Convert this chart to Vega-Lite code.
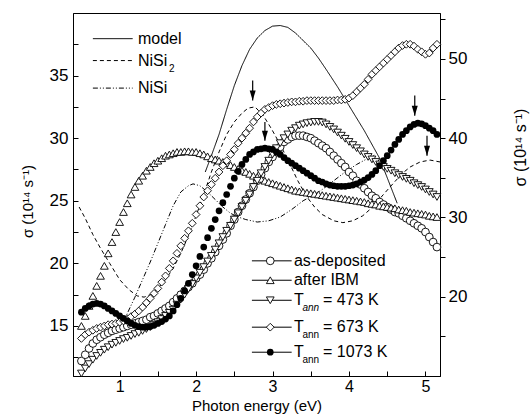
{
"$schema": "https://vega.github.io/schema/vega-lite/v6.json",
"width": 367,
"height": 363,
"autosize": "none",
"padding": {"left": 73, "top": 13, "right": 92, "bottom": 40},
"config": {
 "view": {"stroke": "black", "strokeWidth": 1},
 "font": "Liberation Sans",
 "axis": {"grid": false, "domainColor": "black", "tickColor": "black", "labelColor": "black", "titleColor": "black", "labelFont": "Liberation Sans", "titleFont": "Liberation Sans", "labelFontSize": 17, "titleFontSize": 15, "titleFontWeight": "normal", "labelOverlap": false, "labelFlush": false}
},
"datasets": {
 "markers": [
{"e":0.5,"s":"asdep","v":12.2},{"e":0.55,"s":"asdep","v":12.7},{"e":0.6,"s":"asdep","v":13.2},{"e":0.65,"s":"asdep","v":13.6},{"e":0.7,"s":"asdep","v":13.9},{"e":0.75,"s":"asdep","v":14.1},{"e":0.8,"s":"asdep","v":14.3},{"e":0.85,"s":"asdep","v":14.45},{"e":0.9,"s":"asdep","v":14.6},{"e":0.95,"s":"asdep","v":14.7},
{"e":1,"s":"asdep","v":14.8},{"e":1.05,"s":"asdep","v":14.9},{"e":1.1,"s":"asdep","v":15.0},{"e":1.15,"s":"asdep","v":15.1},{"e":1.2,"s":"asdep","v":15.2},{"e":1.25,"s":"asdep","v":15.3},{"e":1.3,"s":"asdep","v":15.4},{"e":1.35,"s":"asdep","v":15.5},{"e":1.4,"s":"asdep","v":15.7},{"e":1.45,"s":"asdep","v":15.8},
{"e":1.5,"s":"asdep","v":16.0},{"e":1.55,"s":"asdep","v":16.2},{"e":1.6,"s":"asdep","v":16.4},{"e":1.65,"s":"asdep","v":16.6},{"e":1.7,"s":"asdep","v":16.9},{"e":1.75,"s":"asdep","v":17.2},{"e":1.8,"s":"asdep","v":17.5},{"e":1.85,"s":"asdep","v":17.8},{"e":1.9,"s":"asdep","v":18.1},{"e":1.95,"s":"asdep","v":18.4},
{"e":2,"s":"asdep","v":18.8},{"e":2.05,"s":"asdep","v":19.1},{"e":2.1,"s":"asdep","v":19.5},{"e":2.15,"s":"asdep","v":20.0},{"e":2.2,"s":"asdep","v":20.4},{"e":2.25,"s":"asdep","v":20.9},{"e":2.3,"s":"asdep","v":21.4},{"e":2.35,"s":"asdep","v":21.9},{"e":2.4,"s":"asdep","v":22.4},{"e":2.45,"s":"asdep","v":23.0},
{"e":2.5,"s":"asdep","v":23.5},{"e":2.55,"s":"asdep","v":24.1},{"e":2.6,"s":"asdep","v":24.6},{"e":2.65,"s":"asdep","v":25.1},{"e":2.7,"s":"asdep","v":25.6},{"e":2.75,"s":"asdep","v":26.1},{"e":2.8,"s":"asdep","v":26.6},{"e":2.85,"s":"asdep","v":27.1},{"e":2.9,"s":"asdep","v":27.6},{"e":2.95,"s":"asdep","v":28.1},
{"e":3,"s":"asdep","v":28.5},{"e":3.05,"s":"asdep","v":28.9},{"e":3.1,"s":"asdep","v":29.3},{"e":3.15,"s":"asdep","v":29.7},{"e":3.2,"s":"asdep","v":29.9},{"e":3.25,"s":"asdep","v":30.1},{"e":3.3,"s":"asdep","v":30.2},{"e":3.35,"s":"asdep","v":30.2},{"e":3.4,"s":"asdep","v":30.2},{"e":3.45,"s":"asdep","v":30.1},
{"e":3.5,"s":"asdep","v":30.0},{"e":3.55,"s":"asdep","v":29.8},{"e":3.6,"s":"asdep","v":29.6},{"e":3.65,"s":"asdep","v":29.4},{"e":3.7,"s":"asdep","v":29.2},{"e":3.75,"s":"asdep","v":28.9},{"e":3.8,"s":"asdep","v":28.6},{"e":3.85,"s":"asdep","v":28.3},{"e":3.9,"s":"asdep","v":28.0},{"e":3.95,"s":"asdep","v":27.7},
{"e":4,"s":"asdep","v":27.3},{"e":4.05,"s":"asdep","v":27.0},{"e":4.1,"s":"asdep","v":26.6},{"e":4.15,"s":"asdep","v":26.3},{"e":4.2,"s":"asdep","v":26.0},{"e":4.25,"s":"asdep","v":25.7},{"e":4.3,"s":"asdep","v":25.4},{"e":4.35,"s":"asdep","v":25.2},{"e":4.4,"s":"asdep","v":24.9},{"e":4.45,"s":"asdep","v":24.7},
{"e":4.5,"s":"asdep","v":24.5},{"e":4.55,"s":"asdep","v":24.3},{"e":4.6,"s":"asdep","v":24.1},{"e":4.65,"s":"asdep","v":24.0},{"e":4.7,"s":"asdep","v":23.8},{"e":4.75,"s":"asdep","v":23.6},{"e":4.8,"s":"asdep","v":23.4},{"e":4.85,"s":"asdep","v":23.2},{"e":4.9,"s":"asdep","v":23.0},{"e":4.95,"s":"asdep","v":22.8},
{"e":5,"s":"asdep","v":22.5},{"e":5.05,"s":"asdep","v":22.1},{"e":5.1,"s":"asdep","v":21.7},{"e":5.15,"s":"asdep","v":21.3},
{"e":0.5,"s":"ibm","v":15.0},{"e":0.55,"s":"ibm","v":15.8},{"e":0.6,"s":"ibm","v":16.6},{"e":0.65,"s":"ibm","v":17.4},{"e":0.7,"s":"ibm","v":18.2},{"e":0.75,"s":"ibm","v":19.0},{"e":0.8,"s":"ibm","v":19.8},{"e":0.85,"s":"ibm","v":20.8},{"e":0.9,"s":"ibm","v":21.7},{"e":0.95,"s":"ibm","v":22.5},
{"e":1,"s":"ibm","v":23.3},{"e":1.05,"s":"ibm","v":24.1},{"e":1.1,"s":"ibm","v":24.8},{"e":1.15,"s":"ibm","v":25.5},{"e":1.2,"s":"ibm","v":26.1},{"e":1.25,"s":"ibm","v":26.6},{"e":1.3,"s":"ibm","v":27.0},{"e":1.35,"s":"ibm","v":27.4},{"e":1.4,"s":"ibm","v":27.7},{"e":1.45,"s":"ibm","v":28.0},
{"e":1.5,"s":"ibm","v":28.2},{"e":1.55,"s":"ibm","v":28.4},{"e":1.6,"s":"ibm","v":28.6},{"e":1.65,"s":"ibm","v":28.7},{"e":1.7,"s":"ibm","v":28.8},{"e":1.75,"s":"ibm","v":28.9},{"e":1.8,"s":"ibm","v":28.9},{"e":1.85,"s":"ibm","v":28.95},{"e":1.9,"s":"ibm","v":28.95},{"e":1.95,"s":"ibm","v":28.9},
{"e":2,"s":"ibm","v":28.9},{"e":2.05,"s":"ibm","v":28.8},{"e":2.1,"s":"ibm","v":28.7},{"e":2.15,"s":"ibm","v":28.55},{"e":2.2,"s":"ibm","v":28.4},{"e":2.25,"s":"ibm","v":28.3},{"e":2.3,"s":"ibm","v":28.2},{"e":2.35,"s":"ibm","v":28.1},{"e":2.4,"s":"ibm","v":28.0},{"e":2.45,"s":"ibm","v":27.85},
{"e":2.5,"s":"ibm","v":27.7},{"e":2.55,"s":"ibm","v":27.55},{"e":2.6,"s":"ibm","v":27.4},{"e":2.65,"s":"ibm","v":27.3},{"e":2.7,"s":"ibm","v":27.15},{"e":2.75,"s":"ibm","v":27.0},{"e":2.8,"s":"ibm","v":26.9},{"e":2.85,"s":"ibm","v":26.75},{"e":2.9,"s":"ibm","v":26.6},{"e":2.95,"s":"ibm","v":26.5},
{"e":3,"s":"ibm","v":26.4},{"e":3.05,"s":"ibm","v":26.3},{"e":3.1,"s":"ibm","v":26.2},{"e":3.15,"s":"ibm","v":26.1},{"e":3.2,"s":"ibm","v":26.0},{"e":3.25,"s":"ibm","v":25.9},{"e":3.3,"s":"ibm","v":25.8},{"e":3.35,"s":"ibm","v":25.75},{"e":3.4,"s":"ibm","v":25.7},{"e":3.45,"s":"ibm","v":25.65},
{"e":3.5,"s":"ibm","v":25.6},{"e":3.55,"s":"ibm","v":25.55},{"e":3.6,"s":"ibm","v":25.5},{"e":3.65,"s":"ibm","v":25.45},{"e":3.7,"s":"ibm","v":25.4},{"e":3.75,"s":"ibm","v":25.35},{"e":3.8,"s":"ibm","v":25.3},{"e":3.85,"s":"ibm","v":25.25},{"e":3.9,"s":"ibm","v":25.2},{"e":3.95,"s":"ibm","v":25.15},
{"e":4,"s":"ibm","v":25.1},{"e":4.05,"s":"ibm","v":25.05},{"e":4.1,"s":"ibm","v":25.0},{"e":4.15,"s":"ibm","v":24.95},{"e":4.2,"s":"ibm","v":24.9},{"e":4.25,"s":"ibm","v":24.8},{"e":4.3,"s":"ibm","v":24.75},{"e":4.35,"s":"ibm","v":24.7},{"e":4.4,"s":"ibm","v":24.6},{"e":4.45,"s":"ibm","v":24.55},
{"e":4.5,"s":"ibm","v":24.5},{"e":4.55,"s":"ibm","v":24.45},{"e":4.6,"s":"ibm","v":24.4},{"e":4.65,"s":"ibm","v":24.3},{"e":4.7,"s":"ibm","v":24.25},{"e":4.75,"s":"ibm","v":24.2},{"e":4.8,"s":"ibm","v":24.1},{"e":4.85,"s":"ibm","v":24.05},{"e":4.9,"s":"ibm","v":24.0},{"e":4.95,"s":"ibm","v":23.95},
{"e":5,"s":"ibm","v":23.9},{"e":5.05,"s":"ibm","v":23.8},{"e":5.1,"s":"ibm","v":23.75},{"e":5.15,"s":"ibm","v":23.7},
{"e":0.5,"s":"473K","v":11.2},{"e":0.55,"s":"473K","v":11.6},{"e":0.6,"s":"473K","v":11.95},{"e":0.65,"s":"473K","v":12.3},{"e":0.7,"s":"473K","v":12.6},{"e":0.75,"s":"473K","v":12.85},{"e":0.8,"s":"473K","v":13.1},{"e":0.85,"s":"473K","v":13.3},{"e":0.9,"s":"473K","v":13.5},{"e":0.95,"s":"473K","v":13.65},
{"e":1,"s":"473K","v":13.8},{"e":1.05,"s":"473K","v":13.95},{"e":1.1,"s":"473K","v":14.05},{"e":1.15,"s":"473K","v":14.2},{"e":1.2,"s":"473K","v":14.35},{"e":1.25,"s":"473K","v":14.45},{"e":1.3,"s":"473K","v":14.6},{"e":1.35,"s":"473K","v":14.75},{"e":1.4,"s":"473K","v":14.9},{"e":1.45,"s":"473K","v":15.1},
{"e":1.5,"s":"473K","v":15.3},{"e":1.55,"s":"473K","v":15.55},{"e":1.6,"s":"473K","v":15.8},{"e":1.65,"s":"473K","v":16.05},{"e":1.7,"s":"473K","v":16.3},{"e":1.75,"s":"473K","v":16.7},{"e":1.8,"s":"473K","v":17.1},{"e":1.85,"s":"473K","v":17.5},{"e":1.9,"s":"473K","v":17.95},{"e":1.95,"s":"473K","v":18.35},
{"e":2,"s":"473K","v":18.8},{"e":2.05,"s":"473K","v":19.25},{"e":2.1,"s":"473K","v":19.7},{"e":2.15,"s":"473K","v":20.15},{"e":2.2,"s":"473K","v":20.6},{"e":2.25,"s":"473K","v":21.1},{"e":2.3,"s":"473K","v":21.6},{"e":2.35,"s":"473K","v":22.1},{"e":2.4,"s":"473K","v":22.6},{"e":2.45,"s":"473K","v":23.0},
{"e":2.5,"s":"473K","v":23.5},{"e":2.55,"s":"473K","v":24.0},{"e":2.6,"s":"473K","v":24.5},{"e":2.65,"s":"473K","v":25.0},{"e":2.7,"s":"473K","v":25.5},{"e":2.75,"s":"473K","v":26.1},{"e":2.8,"s":"473K","v":26.6},{"e":2.85,"s":"473K","v":27.2},{"e":2.9,"s":"473K","v":27.7},{"e":2.95,"s":"473K","v":28.2},
{"e":3,"s":"473K","v":28.7},{"e":3.05,"s":"473K","v":29.2},{"e":3.1,"s":"473K","v":29.6},{"e":3.15,"s":"473K","v":30.0},{"e":3.2,"s":"473K","v":30.3},{"e":3.25,"s":"473K","v":30.6},{"e":3.3,"s":"473K","v":30.8},{"e":3.35,"s":"473K","v":31.0},{"e":3.4,"s":"473K","v":31.1},{"e":3.45,"s":"473K","v":31.2},
{"e":3.5,"s":"473K","v":31.25},{"e":3.55,"s":"473K","v":31.3},{"e":3.6,"s":"473K","v":31.3},{"e":3.65,"s":"473K","v":31.25},{"e":3.7,"s":"473K","v":31.1},{"e":3.75,"s":"473K","v":30.9},{"e":3.8,"s":"473K","v":30.7},{"e":3.85,"s":"473K","v":30.45},{"e":3.9,"s":"473K","v":30.2},{"e":3.95,"s":"473K","v":29.95},
{"e":4,"s":"473K","v":29.7},{"e":4.05,"s":"473K","v":29.45},{"e":4.1,"s":"473K","v":29.2},{"e":4.15,"s":"473K","v":28.95},{"e":4.2,"s":"473K","v":28.7},{"e":4.25,"s":"473K","v":28.5},{"e":4.3,"s":"473K","v":28.3},{"e":4.35,"s":"473K","v":28.1},{"e":4.4,"s":"473K","v":27.9},{"e":4.45,"s":"473K","v":27.7},
{"e":4.5,"s":"473K","v":27.55},{"e":4.55,"s":"473K","v":27.4},{"e":4.6,"s":"473K","v":27.2},{"e":4.65,"s":"473K","v":27.05},{"e":4.7,"s":"473K","v":26.9},{"e":4.75,"s":"473K","v":26.75},{"e":4.8,"s":"473K","v":26.6},{"e":4.85,"s":"473K","v":26.4},{"e":4.9,"s":"473K","v":26.25},{"e":4.95,"s":"473K","v":26.1},
{"e":5,"s":"473K","v":25.9},{"e":5.05,"s":"473K","v":25.7},{"e":5.1,"s":"473K","v":25.5},{"e":5.15,"s":"473K","v":25.3},
{"e":0.5,"s":"673K","v":14.0},{"e":0.55,"s":"673K","v":14.3},{"e":0.6,"s":"673K","v":14.5},{"e":0.65,"s":"673K","v":14.65},{"e":0.7,"s":"673K","v":14.8},{"e":0.75,"s":"673K","v":14.9},{"e":0.8,"s":"673K","v":15.0},{"e":0.85,"s":"673K","v":15.1},{"e":0.9,"s":"673K","v":15.15},{"e":0.95,"s":"673K","v":15.2},
{"e":1,"s":"673K","v":15.3},{"e":1.05,"s":"673K","v":15.4},{"e":1.1,"s":"673K","v":15.55},{"e":1.15,"s":"673K","v":15.75},{"e":1.2,"s":"673K","v":15.95},{"e":1.25,"s":"673K","v":16.2},{"e":1.3,"s":"673K","v":16.5},{"e":1.35,"s":"673K","v":16.85},{"e":1.4,"s":"673K","v":17.2},{"e":1.45,"s":"673K","v":17.6},
{"e":1.5,"s":"673K","v":18.0},{"e":1.55,"s":"673K","v":18.5},{"e":1.6,"s":"673K","v":19.0},{"e":1.65,"s":"673K","v":19.6},{"e":1.7,"s":"673K","v":20.2},{"e":1.75,"s":"673K","v":20.8},{"e":1.8,"s":"673K","v":21.4},{"e":1.85,"s":"673K","v":22.0},{"e":1.9,"s":"673K","v":22.6},{"e":1.95,"s":"673K","v":23.2},
{"e":2,"s":"673K","v":23.9},{"e":2.05,"s":"673K","v":24.6},{"e":2.1,"s":"673K","v":25.3},{"e":2.15,"s":"673K","v":25.8},{"e":2.2,"s":"673K","v":26.3},{"e":2.25,"s":"673K","v":26.8},{"e":2.3,"s":"673K","v":27.3},{"e":2.35,"s":"673K","v":27.8},{"e":2.4,"s":"673K","v":28.2},{"e":2.45,"s":"673K","v":28.7},
{"e":2.5,"s":"673K","v":29.1},{"e":2.55,"s":"673K","v":29.6},{"e":2.6,"s":"673K","v":30.0},{"e":2.65,"s":"673K","v":30.4},{"e":2.7,"s":"673K","v":30.8},{"e":2.75,"s":"673K","v":31.3},{"e":2.8,"s":"673K","v":31.7},{"e":2.85,"s":"673K","v":32.0},{"e":2.9,"s":"673K","v":32.3},{"e":2.95,"s":"673K","v":32.45},
{"e":3,"s":"673K","v":32.6},{"e":3.05,"s":"673K","v":32.7},{"e":3.1,"s":"673K","v":32.75},{"e":3.15,"s":"673K","v":32.8},{"e":3.2,"s":"673K","v":32.85},{"e":3.25,"s":"673K","v":32.9},{"e":3.3,"s":"673K","v":32.9},{"e":3.35,"s":"673K","v":32.95},{"e":3.4,"s":"673K","v":32.95},{"e":3.45,"s":"673K","v":33.0},
{"e":3.5,"s":"673K","v":33.0},{"e":3.55,"s":"673K","v":33.0},{"e":3.6,"s":"673K","v":33.0},{"e":3.65,"s":"673K","v":33.0},{"e":3.7,"s":"673K","v":33.0},{"e":3.75,"s":"673K","v":33.0},{"e":3.8,"s":"673K","v":33.0},{"e":3.85,"s":"673K","v":33.05},{"e":3.9,"s":"673K","v":33.05},{"e":3.95,"s":"673K","v":33.1},
{"e":4,"s":"673K","v":33.2},{"e":4.05,"s":"673K","v":33.4},{"e":4.1,"s":"673K","v":33.7},{"e":4.15,"s":"673K","v":34.0},{"e":4.2,"s":"673K","v":34.3},{"e":4.25,"s":"673K","v":34.7},{"e":4.3,"s":"673K","v":35.1},{"e":4.35,"s":"673K","v":35.4},{"e":4.4,"s":"673K","v":35.7},{"e":4.45,"s":"673K","v":36.0},
{"e":4.5,"s":"673K","v":36.3},{"e":4.55,"s":"673K","v":36.6},{"e":4.6,"s":"673K","v":36.9},{"e":4.65,"s":"673K","v":37.2},{"e":4.7,"s":"673K","v":37.4},{"e":4.75,"s":"673K","v":37.5},{"e":4.8,"s":"673K","v":37.5},{"e":4.85,"s":"673K","v":37.35},{"e":4.9,"s":"673K","v":37.1},{"e":4.95,"s":"673K","v":36.9},
{"e":5,"s":"673K","v":36.7},{"e":5.05,"s":"673K","v":36.8},{"e":5.1,"s":"673K","v":37.2},{"e":5.15,"s":"673K","v":37.5},
{"e":0.5,"s":"1073K","v":16.1},{"e":0.55,"s":"1073K","v":16.4},{"e":0.6,"s":"1073K","v":16.6},{"e":0.65,"s":"1073K","v":16.75},{"e":0.7,"s":"1073K","v":16.8},{"e":0.75,"s":"1073K","v":16.75},{"e":0.8,"s":"1073K","v":16.6},{"e":0.85,"s":"1073K","v":16.4},{"e":0.9,"s":"1073K","v":16.2},{"e":0.95,"s":"1073K","v":16.0},
{"e":1,"s":"1073K","v":15.8},{"e":1.05,"s":"1073K","v":15.6},{"e":1.1,"s":"1073K","v":15.4},{"e":1.15,"s":"1073K","v":15.2},{"e":1.2,"s":"1073K","v":15.05},{"e":1.25,"s":"1073K","v":14.95},{"e":1.3,"s":"1073K","v":14.9},{"e":1.35,"s":"1073K","v":14.9},{"e":1.4,"s":"1073K","v":14.95},{"e":1.45,"s":"1073K","v":15.05},
{"e":1.5,"s":"1073K","v":15.2},{"e":1.55,"s":"1073K","v":15.35},{"e":1.6,"s":"1073K","v":15.55},{"e":1.65,"s":"1073K","v":15.8},{"e":1.7,"s":"1073K","v":16.2},{"e":1.75,"s":"1073K","v":16.7},{"e":1.8,"s":"1073K","v":17.2},{"e":1.85,"s":"1073K","v":17.8},{"e":1.9,"s":"1073K","v":18.4},{"e":1.95,"s":"1073K","v":19.1},
{"e":2,"s":"1073K","v":19.8},{"e":2.05,"s":"1073K","v":20.55},{"e":2.1,"s":"1073K","v":21.3},{"e":2.15,"s":"1073K","v":22.05},{"e":2.2,"s":"1073K","v":22.8},{"e":2.25,"s":"1073K","v":23.5},{"e":2.3,"s":"1073K","v":24.2},{"e":2.35,"s":"1073K","v":24.85},{"e":2.4,"s":"1073K","v":25.5},{"e":2.45,"s":"1073K","v":26.15},
{"e":2.5,"s":"1073K","v":26.8},{"e":2.55,"s":"1073K","v":27.35},{"e":2.6,"s":"1073K","v":27.9},{"e":2.65,"s":"1073K","v":28.3},{"e":2.7,"s":"1073K","v":28.7},{"e":2.75,"s":"1073K","v":28.9},{"e":2.8,"s":"1073K","v":29.1},{"e":2.85,"s":"1073K","v":29.15},{"e":2.9,"s":"1073K","v":29.2},{"e":2.95,"s":"1073K","v":29.15},
{"e":3,"s":"1073K","v":29.1},{"e":3.05,"s":"1073K","v":28.9},{"e":3.1,"s":"1073K","v":28.7},{"e":3.15,"s":"1073K","v":28.45},{"e":3.2,"s":"1073K","v":28.2},{"e":3.25,"s":"1073K","v":28.0},{"e":3.3,"s":"1073K","v":27.8},{"e":3.35,"s":"1073K","v":27.6},{"e":3.4,"s":"1073K","v":27.4},{"e":3.45,"s":"1073K","v":27.2},
{"e":3.5,"s":"1073K","v":27.0},{"e":3.55,"s":"1073K","v":26.8},{"e":3.6,"s":"1073K","v":26.6},{"e":3.65,"s":"1073K","v":26.5},{"e":3.7,"s":"1073K","v":26.35},{"e":3.75,"s":"1073K","v":26.25},{"e":3.8,"s":"1073K","v":26.2},{"e":3.85,"s":"1073K","v":26.15},{"e":3.9,"s":"1073K","v":26.15},{"e":3.95,"s":"1073K","v":26.15},
{"e":4,"s":"1073K","v":26.2},{"e":4.05,"s":"1073K","v":26.25},{"e":4.1,"s":"1073K","v":26.35},{"e":4.15,"s":"1073K","v":26.5},{"e":4.2,"s":"1073K","v":26.65},{"e":4.25,"s":"1073K","v":26.85},{"e":4.3,"s":"1073K","v":27.1},{"e":4.35,"s":"1073K","v":27.4},{"e":4.4,"s":"1073K","v":27.8},{"e":4.45,"s":"1073K","v":28.2},
{"e":4.5,"s":"1073K","v":28.6},{"e":4.55,"s":"1073K","v":29.05},{"e":4.6,"s":"1073K","v":29.5},{"e":4.65,"s":"1073K","v":29.9},{"e":4.7,"s":"1073K","v":30.3},{"e":4.75,"s":"1073K","v":30.6},{"e":4.8,"s":"1073K","v":30.9},{"e":4.85,"s":"1073K","v":31.1},{"e":4.9,"s":"1073K","v":31.2},{"e":4.95,"s":"1073K","v":31.15},
{"e":5,"s":"1073K","v":31.0},{"e":5.05,"s":"1073K","v":30.8},{"e":5.1,"s":"1073K","v":30.6},{"e":5.15,"s":"1073K","v":30.3}
 ],
 "curves": [
{"e":2.12,"s":"model","v":27.3},{"e":2.2,"s":"model","v":28.6},{"e":2.3,"s":"model","v":30.3},{"e":2.4,"s":"model","v":32.3},{"e":2.5,"s":"model","v":34.2},{"e":2.6,"s":"model","v":35.8},{"e":2.7,"s":"model","v":37.1},{"e":2.8,"s":"model","v":38.0},{"e":2.9,"s":"model","v":38.6},{"e":3.0,"s":"model","v":38.95},{"e":3.1,"s":"model","v":39.0},{"e":3.2,"s":"model","v":38.85},{"e":3.3,"s":"model","v":38.4},{"e":3.4,"s":"model","v":37.8},{"e":3.5,"s":"model","v":37.2},{"e":3.6,"s":"model","v":36.4},{"e":3.7,"s":"model","v":35.5},{"e":3.85,"s":"model","v":34.1},{"e":4.0,"s":"model","v":32.6},{"e":4.2,"s":"model","v":30.6},{"e":4.4,"s":"model","v":28.4},{"e":4.63,"s":"model","v":24.8},
{"e":0.47,"s":"NiSi2","v":24.5},{"e":0.55,"s":"NiSi2","v":23.6},{"e":0.65,"s":"NiSi2","v":22.3},{"e":0.75,"s":"NiSi2","v":21.2},{"e":0.87,"s":"NiSi2","v":20.0},{"e":1.0,"s":"NiSi2","v":18.7},{"e":1.12,"s":"NiSi2","v":17.9},{"e":1.23,"s":"NiSi2","v":17.4},{"e":1.32,"s":"NiSi2","v":17.3},{"e":1.4,"s":"NiSi2","v":17.5},{"e":1.5,"s":"NiSi2","v":18.0},{"e":1.6,"s":"NiSi2","v":18.7},{"e":1.7,"s":"NiSi2","v":19.6},{"e":1.8,"s":"NiSi2","v":20.8},{"e":1.9,"s":"NiSi2","v":22.2},{"e":2.0,"s":"NiSi2","v":23.8},{"e":2.1,"s":"NiSi2","v":25.5},{"e":2.2,"s":"NiSi2","v":27.3},{"e":2.3,"s":"NiSi2","v":28.9},{"e":2.4,"s":"NiSi2","v":30.3},{"e":2.5,"s":"NiSi2","v":31.3},{"e":2.6,"s":"NiSi2","v":32.0},{"e":2.68,"s":"NiSi2","v":32.4},{"e":2.77,"s":"NiSi2","v":32.5},{"e":2.88,"s":"NiSi2","v":31.8},{"e":2.99,"s":"NiSi2","v":30.7},{"e":3.09,"s":"NiSi2","v":29.6},{"e":3.19,"s":"NiSi2","v":28.4},{"e":3.33,"s":"NiSi2","v":26.6},{"e":3.45,"s":"NiSi2","v":25.3},{"e":3.55,"s":"NiSi2","v":24.5},{"e":3.65,"s":"NiSi2","v":23.9},{"e":3.8,"s":"NiSi2","v":23.4},{"e":3.92,"s":"NiSi2","v":23.25},{"e":4.05,"s":"NiSi2","v":23.4},{"e":4.18,"s":"NiSi2","v":23.8},{"e":4.31,"s":"NiSi2","v":24.5},{"e":4.45,"s":"NiSi2","v":25.5},{"e":4.58,"s":"NiSi2","v":26.4},{"e":4.7,"s":"NiSi2","v":27.2},{"e":4.8,"s":"NiSi2","v":27.7},{"e":4.93,"s":"NiSi2","v":28.1},{"e":5.06,"s":"NiSi2","v":28.25},{"e":5.19,"s":"NiSi2","v":28.1},
{"e":1.03,"s":"NiSi","v":15.2},{"e":1.1,"s":"NiSi","v":16.0},{"e":1.2,"s":"NiSi","v":17.3},{"e":1.3,"s":"NiSi","v":18.7},{"e":1.4,"s":"NiSi","v":20.1},{"e":1.5,"s":"NiSi","v":21.6},{"e":1.6,"s":"NiSi","v":23.1},{"e":1.7,"s":"NiSi","v":24.6},{"e":1.8,"s":"NiSi","v":25.7},{"e":1.9,"s":"NiSi","v":26.2},{"e":1.96,"s":"NiSi","v":26.35},{"e":2.05,"s":"NiSi","v":26.2},{"e":2.15,"s":"NiSi","v":25.7},{"e":2.25,"s":"NiSi","v":25.1},{"e":2.35,"s":"NiSi","v":24.5},{"e":2.45,"s":"NiSi","v":24.0},{"e":2.55,"s":"NiSi","v":23.7},{"e":2.65,"s":"NiSi","v":23.5},{"e":2.8,"s":"NiSi","v":23.3},{"e":2.95,"s":"NiSi","v":23.4},{"e":3.1,"s":"NiSi","v":23.7},{"e":3.25,"s":"NiSi","v":24.3},{"e":3.4,"s":"NiSi","v":25.0},{"e":3.55,"s":"NiSi","v":25.5},{"e":3.65,"s":"NiSi","v":25.9},{"e":3.8,"s":"NiSi","v":26.6},{"e":3.95,"s":"NiSi","v":27.3},{"e":4.1,"s":"NiSi","v":27.9},{"e":4.25,"s":"NiSi","v":28.4},{"e":4.35,"s":"NiSi","v":28.7}
 ],
 "arrows": [
{"e":2.74,"v":33.0,"v2":34.6},{"e":2.9,"v":29.8,"v2":31.3},{"e":4.86,"v":31.8,"v2":33.4},{"e":5.02,"v":28.6,"v2":30.2}
 ],
 "legendCurves": [
{"e":0.65,"e2":1.17,"v":37.95,"s":"model"},{"e":0.65,"e2":1.17,"v":36.2,"s":"NiSi2"},{"e":0.65,"e2":1.17,"v":34.0,"s":"NiSi"}
 ],
 "legendSeries": [
{"e":2.73,"e2":3.25,"v":20.2,"s":"asdep"},{"e":2.73,"e2":3.25,"v":18.65,"s":"ibm"},{"e":2.73,"e2":3.25,"v":17.05,"s":"473K"},{"e":2.73,"e2":3.25,"v":14.9,"s":"673K"},{"e":2.73,"e2":3.25,"v":12.9,"s":"1073K"}
 ],
 "legendMarks": [
{"e":2.97,"v":20.2,"s":"asdep"},{"e":2.97,"v":18.65,"s":"ibm"},{"e":2.97,"v":17.05,"s":"473K"},{"e":2.97,"v":14.9,"s":"673K"},{"e":2.97,"v":12.9,"s":"1073K"}
 ],
 "labels": [
{"e":1.24,"v":37.95,"t":"model","k":"main"},{"e":1.24,"v":36.2,"t":"NiSi","k":"main"},{"e":1.24,"v":34.0,"t":"NiSi","k":"main"},
{"e":3.28,"v":20.2,"t":"as-deposited","k":"main"},{"e":3.28,"v":18.65,"t":"after IBM","k":"main"},
{"e":3.28,"v":17.1,"t":"T","k":"main"},{"e":3.66,"v":17.1,"t":"= 473 K","k":"main"},
{"e":3.28,"v":14.9,"t":"T","k":"main"},{"e":3.66,"v":14.9,"t":"= 673 K","k":"main"},
{"e":3.28,"v":12.9,"t":"T","k":"main"},{"e":3.66,"v":12.9,"t":"= 1073 K","k":"main"},
{"e":1.645,"v":35.55,"t":"2","k":"sub"},{"e":3.39,"v":16.4,"t":"ann","k":"subi"},{"e":3.39,"v":14.3,"t":"ann","k":"sub"},{"e":3.39,"v":12.3,"t":"ann","k":"sub"}
 ],
 "rightAxis": [{"r": 10}, {"r": 55.8}]
},
"layer": [
 {
  "encoding": {
   "x": {"field": "e", "type": "quantitative", "scale": {"domain": [0.39, 5.19], "nice": false, "zero": false},
     "axis": {"title": "Photon energy (eV)", "values": [0.5,1,1.5,2,2.5,3,3.5,4,4.5,5], "labelExpr": "datum.value % 1 === 0 ? format(datum.value, 'd') : ''", "tickSize": -5, "labelPadding": 7, "titlePadding": 4, "labelFontSize": 16}},
   "y": {"field": "v", "type": "quantitative", "scale": {"domain": [11, 40], "nice": false, "zero": false},
     "axis": {"title": "σ (10¹⁴ s⁻¹)", "values": [12.5,15,17.5,20,22.5,25,27.5,30,32.5,35,37.5], "labelExpr": "datum.value % 5 === 0 ? format(datum.value, 'd') : ''", "tickSize": -5, "labelPadding": 10, "titlePadding": 14, "titleY": 188}}
  },
  "layer": [
   {"data": {"name": "curves"}, "mark": {"type": "line", "color": "black", "strokeWidth": 1},
    "encoding": {"strokeDash": {"field": "s", "type": "nominal", "scale": {"domain": ["model","NiSi2","NiSi"], "range": [[1,0],[4,3],[5,2,1,2,1,2]]}, "legend": null}}},
   {"data": {"name": "markers"}, "transform": [{"filter": "datum.s !== '1073K'"}],
    "mark": {"type": "point", "filled": false, "fill": "white", "fillOpacity": 1, "stroke": "black", "strokeWidth": 0.9, "opacity": 1, "size": 60},
    "encoding": {"shape": {"field": "s", "type": "nominal", "scale": {"domain": ["asdep","ibm","473K","673K","1073K"], "range": ["circle","triangle-up","triangle-down","diamond","circle"]}, "legend": null}}},
   {"data": {"name": "markers"}, "transform": [{"filter": "datum.s === '1073K'"}],
    "mark": {"type": "point", "filled": true, "color": "black", "opacity": 1, "size": 45, "shape": "circle"}},
   {"data": {"name": "arrows"}, "mark": {"type": "rule", "color": "black", "strokeWidth": 1.2},
    "encoding": {"y2": {"field": "v2"}}},
   {"data": {"name": "arrows"}, "mark": {"type": "point", "filled": true, "color": "black", "opacity": 1, "size": 100, "shape": "M-0.6,-2L0.6,-2L0,0Z"}},
   {"data": {"name": "legendCurves"}, "mark": {"type": "rule", "color": "black", "strokeWidth": 1},
    "encoding": {"x2": {"field": "e2"}, "strokeDash": {"field": "s", "type": "nominal", "scale": {"domain": ["model","NiSi2","NiSi"], "range": [[1,0],[4,3],[5,2,1,2,1,2]]}, "legend": null}}},
   {"data": {"name": "legendSeries"}, "mark": {"type": "rule", "color": "black", "strokeWidth": 1},
    "encoding": {"x2": {"field": "e2"}}},
   {"data": {"name": "legendMarks"}, "transform": [{"filter": "datum.s !== '1073K'"}],
    "mark": {"type": "point", "filled": false, "fill": "white", "fillOpacity": 1, "stroke": "black", "strokeWidth": 0.9, "opacity": 1, "size": 60},
    "encoding": {"shape": {"field": "s", "type": "nominal", "scale": {"domain": ["asdep","ibm","473K","673K","1073K"], "range": ["circle","triangle-up","triangle-down","diamond","circle"]}, "legend": null}}},
   {"data": {"name": "legendMarks"}, "transform": [{"filter": "datum.s === '1073K'"}],
    "mark": {"type": "point", "filled": true, "color": "black", "opacity": 1, "size": 45, "shape": "circle"}},
   {"data": {"name": "labels"}, "transform": [{"filter": "datum.k === 'main'"}],
    "mark": {"type": "text", "align": "left", "baseline": "middle", "font": "Liberation Sans", "fontSize": 16, "color": "black"},
    "encoding": {"text": {"field": "t"}}},
   {"data": {"name": "labels"}, "transform": [{"filter": "datum.k === 'sub'"}],
    "mark": {"type": "text", "align": "left", "baseline": "middle", "font": "Liberation Sans", "fontSize": 10, "color": "black"},
    "encoding": {"text": {"field": "t"}}},
   {"data": {"name": "labels"}, "transform": [{"filter": "datum.k === 'subi'"}],
    "mark": {"type": "text", "align": "left", "baseline": "middle", "font": "Liberation Sans", "fontSize": 10, "fontStyle": "italic", "color": "black"},
    "encoding": {"text": {"field": "t"}}}
  ]
 },
 {
  "data": {"name": "rightAxis"},
  "mark": {"type": "point", "opacity": 0},
  "encoding": {
   "y": {"field": "r", "type": "quantitative", "scale": {"domain": [10, 55.8], "nice": false, "zero": false},
     "axis": {"orient": "right", "title": "σ (10¹⁴ s⁻¹)", "values": [15,20,25,30,35,40,45,50,55], "labelExpr": "datum.value % 10 === 0 ? format(datum.value, 'd') : ''", "tickSize": 5, "labelPadding": 3, "titleAngle": 270, "titlePadding": 62, "titleFontSize": 16, "titleY": 134}}
  }
 }
],
"resolve": {"scale": {"y": "independent"}}
}
